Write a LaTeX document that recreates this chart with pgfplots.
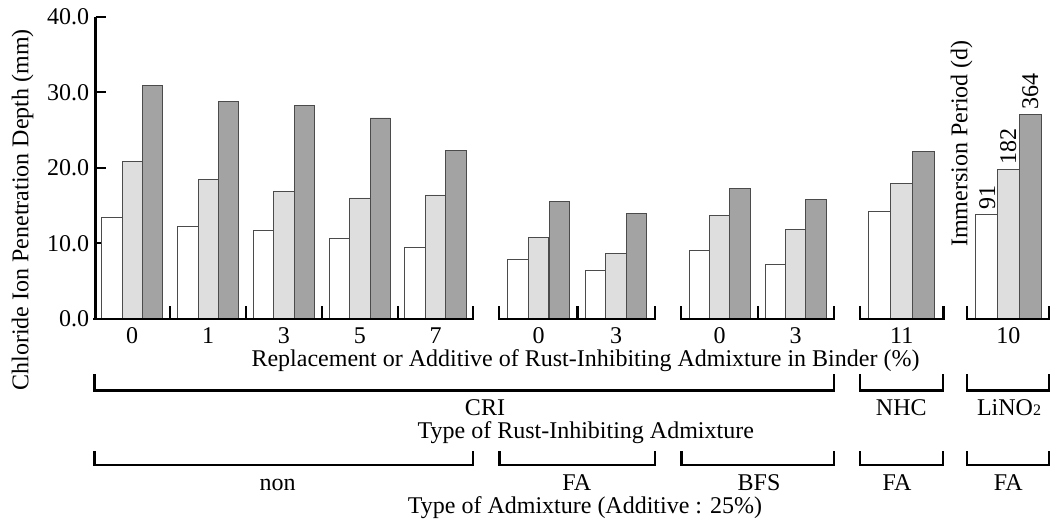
\documentclass[border=0pt]{standalone}
\usepackage{fontspec}
\setmainfont{Liberation Serif}
\usepackage{pgfplots}
\pgfplotsset{compat=1.18}
\usepackage{pgfplotstable}
\definecolor{lgray}{RGB}{221,222,221}
\definecolor{dgray}{RGB}{163,163,163}
\definecolor{edge}{RGB}{75,75,75}

% group: centres of the white, light and dark bars (px) and depths (mm) at 91, 182, 364 d
\pgfplotstableread{
xw    xl    xd    w    l    d
111.8 132.2 152.5 13.4 20.9 30.9
187.8 208.2 228.5 12.2 18.5 28.8
263.7 283.8 304.2 11.7 16.9 28.3
339.5 359.8 380.2 10.6 16.0 26.6
415.0 435.5 455.8 9.5  16.4 22.3
517.8 538.7 559.4 7.8  10.8 15.6
595.3 616.0 636.7 6.4  8.6  13.9
699.4 719.6 740.0 9.1  13.7 17.3
775.3 795.6 816.0 7.2  11.8 15.8
}\narrowtable
\pgfplotstableread{
xw    xl    xd    w    l    d
879.5 901.7 923.7 14.2 17.9 22.1
986.5 1008.3 1030.3 13.8 19.8 27.1
}\widetable

\begin{document}
\fontsize{18}{21.6}\selectfont
\begin{tikzpicture}
\path[use as bounding box] (0,0) rectangle (788.25pt,389.25pt);
\begin{axis}[
  at={(71.625pt,150.15pt)}, anchor=south west,
  x=0.75pt, y=5.6625pt,
  xmin=95.5, xmax=1049, ymin=0, ymax=40,
  clip=false,
  axis y line*=left, axis x line=none,
  y axis line style={line width=1.7pt,-},
  ytick={0,10,20,30,40},
  tick align=inside,
  major tick length=7.5pt,
  ytick style={line width=1.7pt,black},
  y tick label style={/pgf/number format/.cd, fixed, fixed zerofill, precision=1, assume math mode=true, /tikz/.cd, inner sep=4.5pt},
  /pgf/number format/assume math mode=true,
]
\addplot[ybar, bar shift=0pt, bar width=15.3pt, fill=white, draw=edge, line width=0.7pt] table[x=xw,y=w]{\narrowtable};
\addplot[ybar, bar shift=0pt, bar width=15.3pt, fill=lgray, draw=edge, line width=0.7pt] table[x=xl,y=l]{\narrowtable};
\addplot[ybar, bar shift=0pt, bar width=15.3pt, fill=dgray, draw=edge, line width=0.7pt] table[x=xd,y=d]{\narrowtable};
\addplot[ybar, bar shift=0pt, bar width=16.4pt, fill=white, draw=edge, line width=0.7pt] table[x=xw,y=w]{\widetable};
\addplot[ybar, bar shift=0pt, bar width=16.4pt, fill=lgray, draw=edge, line width=0.7pt] table[x=xl,y=l]{\widetable};
\addplot[ybar, bar shift=0pt, bar width=16.4pt, fill=dgray, draw=edge, line width=0.7pt] table[x=xd,y=d]{\widetable};
\node[rotate=90, anchor=base west, inner sep=0pt] at (axis cs:995.0,14.4) {91};
\node[rotate=90, anchor=base west, inner sep=0pt] at (axis cs:1016.0,20.4) {182};
\node[rotate=90, anchor=base west, inner sep=0pt] at (axis cs:1038.0,27.7) {364};
\node[rotate=90, anchor=base west, inner sep=0pt] at (axis cs:967.3,9.5) {Immersion Period (d)};
\end{axis}
\begin{scope}[x=0.75pt,y=0.75pt]
  % y-axis title
  \node[rotate=90, anchor=base west, inner sep=0pt] at (28.3,128.3) {Chloride Ion Penetration Depth (mm)};
  % x axis segments with group ticks
  \begin{scope}[line width=1.7pt, line cap=rect]
    \draw (94.5,200.2) -- (473.3,200.2) -- (473.3,212.2);
    \foreach \t in {170,246,321.7,397.7} \draw (\t,200.2) -- (\t,212.2);
    \draw (499.3,212.2) -- (499.3,200.2) -- (655,200.2) -- (655,212.2);
    \draw (577.5,200.2) -- (577.5,212.2);
    \draw (681,212.2) -- (681,200.2) -- (834.3,200.2) -- (834.3,212.2);
    \draw (757.9,200.2) -- (757.9,212.2);
    \draw (860,212.2) -- (860,200.2) -- (943.5,200.2) -- (943.5,212.2);
    \draw (966.8,212.2) -- (966.8,200.2) -- (1049.3,200.2) -- (1049.3,212.2);
  \end{scope}
  % tick labels
  \foreach \x/\lab in {132.2/0,208.2/1,283.8/3,359.8/5,435.5/7,538.7/0,616.0/3,719.6/0,795.6/3,901.7/11,1008.3/10}
    \node[anchor=base, inner sep=0pt] at (\x,175.7) {\lab};
  \node[anchor=base, inner sep=0pt] at (585.5,152.3) {Replacement or Additive of Rust-Inhibiting Admixture in Binder (\%)};
  % bracket row 1
  \begin{scope}[line width=1.6pt, line cap=rect]
    \draw (94.5,144) -- (94.5,128.5) -- (834.3,128.5) -- (834.3,144);
    \draw (860,144) -- (860,128.5) -- (943.3,128.5) -- (943.3,144);
    \draw (966.7,144) -- (966.7,128.5) -- (1049.3,128.5) -- (1049.3,144);
  \end{scope}
  \node[anchor=base, inner sep=0pt] at (485,104) {CRI};
  \node[anchor=base, inner sep=0pt] at (901.3,104) {NHC};
  \node[anchor=base, inner sep=0pt] at (1009,104) {LiNO{\fontsize{12}{12}\selectfont 2}};
  \node[anchor=base, inner sep=0pt] at (585.8,80.7) {Type of Rust-Inhibiting Admixture};
  % bracket row 2
  \begin{scope}[line width=1.6pt, line cap=rect]
    \draw (94.5,67.3) -- (94.5,54) -- (473.3,54) -- (473.3,67.3);
    \draw (499.5,67.3) -- (499.5,54) -- (655,54) -- (655,67.3);
    \draw (681.5,67.3) -- (681.5,54) -- (834.3,54) -- (834.3,67.3);
    \draw (860,67.3) -- (860,54) -- (943.3,54) -- (943.3,67.3);
    \draw (966.7,67.3) -- (966.7,54) -- (1049.3,54) -- (1049.3,67.3);
  \end{scope}
  \node[anchor=base, inner sep=0pt] at (277.5,28.3) {non};
  \node[anchor=base, inner sep=0pt] at (576.7,28.3) {FA};
  \node[anchor=base, inner sep=0pt] at (759,28.3) {BFS};
  \node[anchor=base, inner sep=0pt] at (897,28.3) {FA};
  \node[anchor=base, inner sep=0pt] at (1008.3,28.3) {FA};
  \node[anchor=base, inner sep=0pt] at (585,5.7) {Type of Admixture (Additive : 25\%)};
\end{scope}
\end{tikzpicture}
\end{document}
